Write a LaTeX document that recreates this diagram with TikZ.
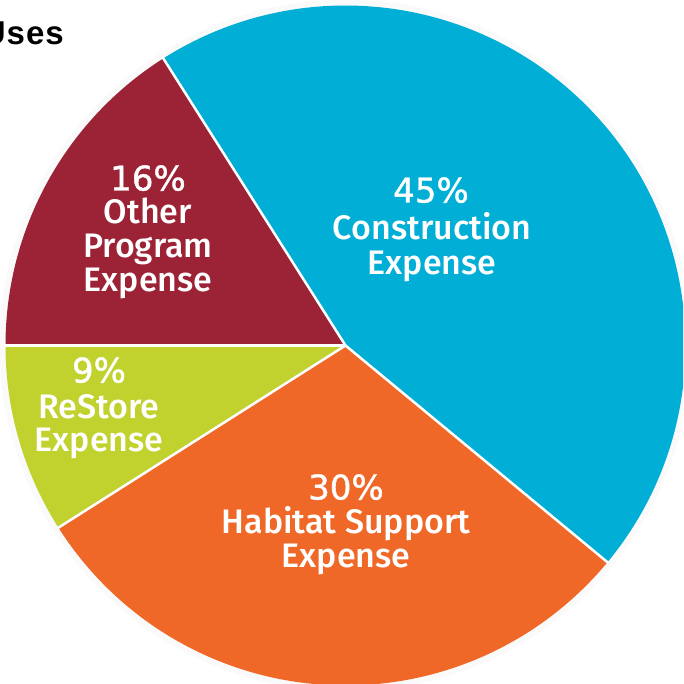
\documentclass[tikz,border=0pt]{standalone}
\usepackage{fontspec}
\usetikzlibrary{calc}
\newfontfamily\lblfont{Fira Sans}[UprightFont=* Medium]
\newfontfamily\pctfont{DejaVu Sans}[FakeBold=1.2]
\newfontfamily\ttlfont{Liberation Sans}[UprightFont=* Bold, LetterSpace=3]
\definecolor{cyanc}{HTML}{00AED6}
\definecolor{redc}{HTML}{9C2235}
\definecolor{greenc}{HTML}{C1D22F}
\definecolor{orangec}{HTML}{F06827}
\tikzset{
  lbl/.style={text=white, font=\lblfont\fontsize{34}{36}\selectfont, anchor=base, inner sep=0pt},
  pct/.style={text=white, font=\pctfont\fontsize{34}{36}\selectfont, anchor=base, inner sep=0pt},
  sep/.style={draw=white, line width=2.5pt},
}
\begin{document}
\begin{tikzpicture}[x=1pt,y=1pt]
\useasboundingbox (0,0) rectangle (683,684);
\clip (0,0) rectangle (683,684);
\coordinate (O) at (345.5,338.5);
% faint halo
\fill[black!2] (O) circle[radius=346];
% slices
\fill[cyanc] (O) -- ++(-39.6:340) arc[start angle=-39.6, end angle=122.4, radius=340] -- cycle;
\fill[redc] (O) -- ++(122.4:340) arc[start angle=122.4, end angle=180, radius=340] -- cycle;
\fill[greenc] (O) -- ++(180:340) arc[start angle=180, end angle=212.4, radius=340] -- cycle;
\fill[orangec] (O) -- ++(212.4:340) arc[start angle=212.4, end angle=320.4, radius=340] -- cycle;
% separators
\coordinate (b1) at ($(O)+(122.4:341)$);
\coordinate (b2) at ($(O)+(180:341)$);
\coordinate (b3) at ($(O)+(212.4:341)$);
\coordinate (b4) at ($(O)+(320.4:341)$);
\draw[sep] (O) -- (b1);
\draw[sep] (O) -- (b2);
\draw[sep] (O) -- (b3);
\draw[sep] (O) -- (b4);
% title (cropped at the left edge, as in the reference)
\node[anchor=base east, inner sep=0pt, font=\ttlfont\fontsize{33}{36}\selectfont] (title) at (64,639) {Uses};
% cyan
\node[pct] (c1) at (431,481.5) {45\%};
\node[lbl] (c2) at (432,444.5) {Construction};
\node[lbl] (c3) at (432,409.5) {Expense};
% red
\node[pct] (r1) at (148,493.5) {16\%};
\node[lbl] (r2) at (148,460.5) {Other};
\node[lbl] (r3) at (148,426.5) {Program};
\node[lbl] (r4) at (148,392.5) {Expense};
% green
\node[pct] (g1) at (99,301.5) {9\%};
\node[lbl] (g2) at (99,265.5) {ReStore};
\node[lbl] (g3) at (99,232.5) {Expense};
% orange
\node[pct] (o1) at (346,184.5) {30\%};
\node[lbl] (o2) at (346,150.5) {Habitat Support};
\node[lbl] (o3) at (346,116.5) {Expense};
\end{tikzpicture}
\end{document}
